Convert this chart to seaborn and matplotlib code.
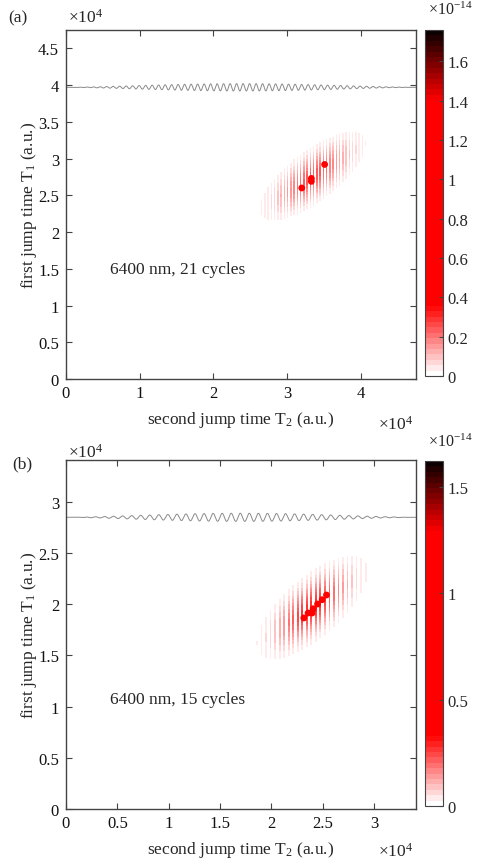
import numpy as np
import pandas as pd
import matplotlib
matplotlib.use("Agg")
import matplotlib.pyplot as plt
from matplotlib.colors import ListedColormap
from matplotlib.ticker import FuncFormatter
import seaborn as sns

# ---------------- data ----------------
# panel (a): 6400 nm, 21 cycles
a_xlim = 4.75e4
a_ylim = 4.75e4
a_xticks = [0, 1e4, 2e4, 3e4, 4e4]
a_yticks = [0, 0.5e4, 1e4, 1.5e4, 2e4, 2.5e4, 3e4, 3.5e4, 4e4, 4.5e4]
a_cbar_max = 1.76e-14
a_cbar_ticks = [0, 0.2e-14, 0.4e-14, 0.6e-14, 0.8e-14, 1.0e-14, 1.2e-14, 1.4e-14, 1.6e-14]
a_dots_t2 = [3.20e4, 3.33e4, 3.33e4, 3.51e4]
a_dots_t1 = [2.60e4, 2.73e4, 2.69e4, 2.92e4]
a_blob_center = (3.35e4, 2.76e4)
a_blob_angle_deg = 38.0
a_blob_sigma = (0.42e4, 0.16e4)
a_blob_peak = 0.24e-14
a_wave_level = 3.97e4
a_wave_amp = 0.05e4
a_label = "6400 nm, 21 cycles"

# panel (b): 6400 nm, 15 cycles
b_xlim = 3.41e4
b_ylim = 3.41e4
b_xticks = [0, 0.5e4, 1e4, 1.5e4, 2e4, 2.5e4, 3e4]
b_yticks = [0, 0.5e4, 1e4, 1.5e4, 2e4, 2.5e4, 3e4]
b_cbar_max = 1.62e-14
b_cbar_ticks = [0, 0.5e-14, 1.0e-14, 1.5e-14]
b_dots_t2 = [2.317e4, 2.359e4, 2.398e4, 2.408e4, 2.451e4, 2.496e4, 2.538e4]
b_dots_t1 = [1.867e4, 1.915e4, 1.915e4, 1.957e4, 2.003e4, 2.045e4, 2.091e4]
b_blob_center = (2.40e4, 1.97e4)
b_blob_angle_deg = 42.0
b_blob_sigma = (0.31e4, 0.13e4)
b_blob_peak = 0.28e-14
b_wave_level = 2.85e4
b_wave_amp = 0.04e4
b_label = "6400 nm, 15 cycles"

optical_period = 882.0  # a.u. for 6400 nm

# ---------------- style ----------------
sns.set_theme(style="ticks")
plt.rcParams["font.family"] = ["Liberation Serif", "DejaVu Serif"]
plt.rcParams["mathtext.fontset"] = "custom"
plt.rcParams["mathtext.rm"] = "Liberation Serif"
plt.rcParams["mathtext.it"] = "Liberation Serif:italic"
plt.rcParams["mathtext.default"] = "regular"
plt.rcParams["axes.unicode_minus"] = False
plt.rcParams["axes.axisbelow"] = False

FS = 12.5
TFS = 12
SPINE = "#444444"

# MATLAB-like 64-level white->red->black colormap
n = 64
cols = []
for i in range(n):
    f = i / (n - 1)
    if f < 0.2:
        t = f / 0.2
        cols.append((1.0, 1.0 - t, 1.0 - t))
    elif f <= 0.8:
        cols.append((1.0, 0.0, 0.0))
    else:
        t = (f - 0.8) / 0.2
        cols.append((1.0 - 0.95 * t, 0.0, 0.0))
cmap = ListedColormap(cols)

W, H = 488, 862
fig = plt.figure(figsize=(W / 100, H / 100), dpi=100)


def fx(px):
    return px / W


def fy(py):
    return 1 - py / H


def blob(xlim, ylim, center, angle_deg, sigma, peak):
    step = optical_period / 2
    xe = np.arange(0, xlim + step, step)
    ye = np.linspace(0, ylim, 400)
    # stripes: each half-cycle cell split into a filled part and an empty part
    xedges = np.sort(np.concatenate([xe, xe + step * 0.4]))
    xc = 0.5 * (xedges[:-1] + xedges[1:])
    yc = 0.5 * (ye[:-1] + ye[1:])
    X, Y = np.meshgrid(xc, yc)
    th = np.deg2rad(angle_deg)
    dx, dy = X - center[0], Y - center[1]
    u = dx * np.cos(th) + dy * np.sin(th)
    v = -dx * np.sin(th) + dy * np.cos(th)
    Z = peak * np.exp(-0.5 * (u / sigma[0]) ** 2 - 0.5 * (v / sigma[1]) ** 2)
    on = (np.arange(len(xc)) % 2 == 0)
    Z = Z * on[None, :]
    return xedges, ye, Z


def panel(ax_rect, cax_rect, xlim, ylim, xticks, yticks, cmax, cticks,
          dots_t2, dots_t1, bc, ba, bs, bp, wl, wa, label):
    ax = fig.add_axes(ax_rect)
    cax = fig.add_axes(cax_rect)
    xe, ye, Z = blob(xlim, ylim, bc, ba, bs, bp)
    mesh = ax.pcolormesh(xe, ye, Z, cmap=cmap, vmin=0, vmax=cmax,
                         shading="flat", rasterized=True, zorder=0.2)
    # laser field illustration
    t = np.linspace(0, xlim, 6000)
    env = np.sin(np.pi * t / xlim) ** 1.5
    wave = pd.DataFrame({"t": t, "f": wl + wa * env * np.sin(2 * np.pi * t / optical_period)})
    sns.lineplot(data=wave, x="t", y="f", ax=ax, color="#8a8a8a", lw=0.7,
                 estimator=None, sort=False)
    dots = pd.DataFrame({"T2": dots_t2, "T1": dots_t1})
    sns.scatterplot(data=dots, x="T2", y="T1", ax=ax, color="#ff0000", s=24,
                    edgecolor="none", zorder=5)
    ax.set_axisbelow(False)
    ax.set_xlim(0, xlim)
    ax.set_ylim(0, ylim)
    ax.set_xticks(xticks)
    ax.set_yticks(yticks)
    fmt = FuncFormatter(lambda v, _: f"{v / 1e4:g}")
    ax.xaxis.set_major_formatter(fmt)
    ax.yaxis.set_major_formatter(fmt)
    ax.tick_params(direction="in", length=4, width=0.8, color=SPINE,
                   bottom=True, left=True, top=True, right=True,
                   labelsize=TFS, labelcolor="#111111")
    ax.tick_params(axis="x", pad=4)
    ax.tick_params(axis="y", pad=5)
    for s in ax.spines.values():
        s.set_visible(True)
        s.set_color(SPINE)
        s.set_linewidth(1.0)
    ax.set_xlabel("second jump time T$_2$ (a.u.)", fontsize=FS)
    ax.set_ylabel("first jump time T$_1$ (a.u.)", fontsize=FS)
    ax.xaxis.set_label_coords(0.5, -0.085)
    ax.yaxis.set_label_coords(-0.078, 0.5)
    ax.text(0.126, 0.315, label, transform=ax.transAxes, fontsize=FS,
            ha="left", va="center")
    cb = fig.colorbar(mesh, cax=cax)
    cb.set_ticks(cticks)
    cb.ax.set_axisbelow(False)
    cb.ax.yaxis.set_major_formatter(FuncFormatter(lambda v, _: f"{v / 1e-14:g}"))
    cb.ax.tick_params(direction="in", length=3, width=0.8, color=SPINE,
                      right=True, labelsize=TFS, pad=3)
    cb.outline.set_edgecolor(SPINE)
    cb.outline.set_linewidth(0.8)
    return ax, cax


ax_a, cax_a = panel([fx(66), fy(380), fx(350), 349 / H], [fx(425), fy(377), fx(18), 346 / H],
                    a_xlim, a_ylim, a_xticks, a_yticks, a_cbar_max, a_cbar_ticks,
                    a_dots_t2, a_dots_t1, a_blob_center, a_blob_angle_deg, a_blob_sigma,
                    a_blob_peak, a_wave_level, a_wave_amp, a_label)
ax_b, cax_b = panel([fx(66), fy(810), fx(350), 349 / H], [fx(425), fy(807), fx(18), 345 / H],
                    b_xlim, b_ylim, b_xticks, b_yticks, b_cbar_max, b_cbar_ticks,
                    b_dots_t2, b_dots_t1, b_blob_center, b_blob_angle_deg, b_blob_sigma,
                    b_blob_peak, b_wave_level, b_wave_amp, b_label)

# panel labels and multipliers
fig.text(fx(8), fy(18), "(a)", fontsize=FS, ha="left", va="center")
fig.text(fx(12), fy(464), "(b)", fontsize=FS, ha="left", va="center")
for yy in (18, 453):
    fig.text(fx(68), fy(yy), "×10$^{4}$", fontsize=FS, ha="left", va="center")
for yy in (425, 852):
    fig.text(fx(378), fy(yy), "×10$^{4}$", fontsize=FS, ha="left", va="center")
for yy in (10, 442):
    fig.text(fx(428), fy(yy), "×10$^{-14}$", fontsize=FS - 1, ha="left", va="center")

fig.savefig("out.png", dpi=100, facecolor="white")
